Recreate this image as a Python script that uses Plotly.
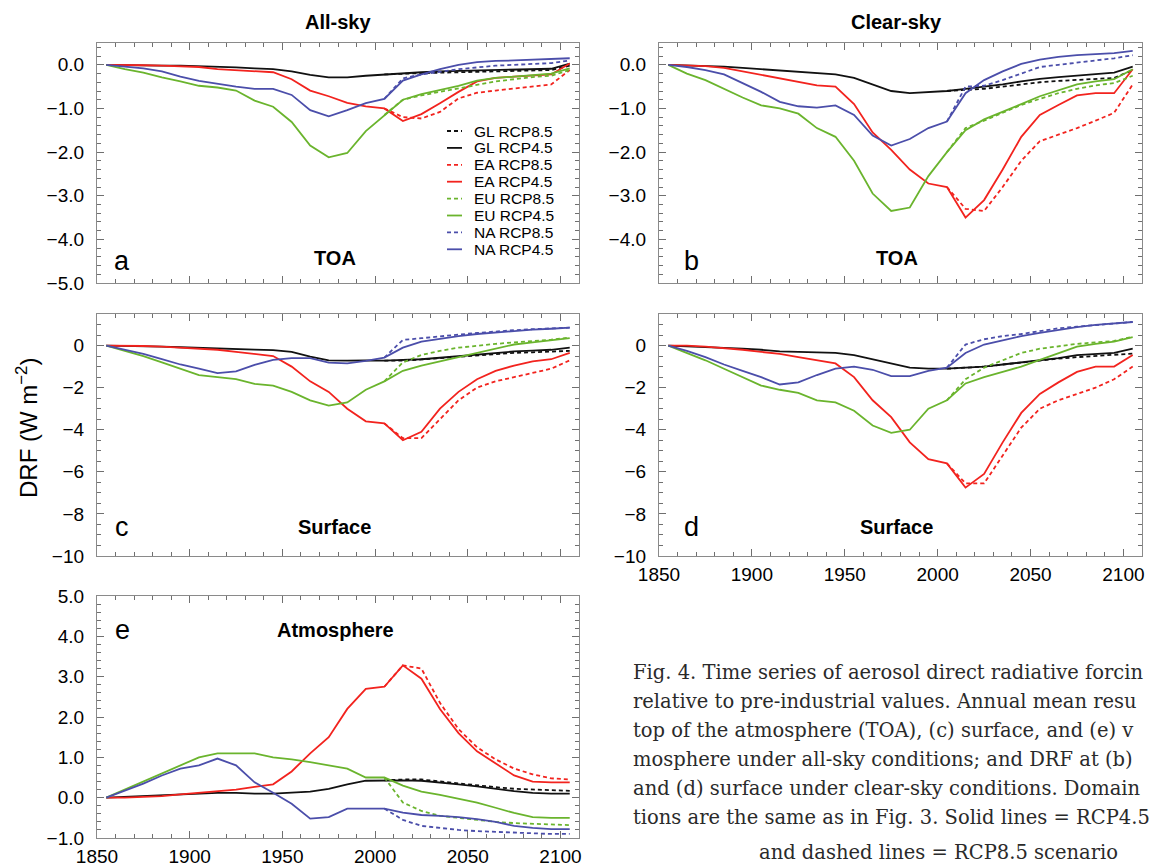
import plotly.graph_objects as go

W, H = 1154, 866

# ---------------- data (decadal means, W m-2) ----------------
YEARS_HIST = [1855, 1865, 1875, 1885, 1895, 1905, 1915, 1925, 1935, 1945,
              1955, 1965, 1975, 1985, 1995, 2005]
YEARS_FUT = [2015, 2025, 2035, 2045, 2055, 2065, 2075, 2085, 2095, 2105]
REGIONS = ["GL", "EA", "EU", "NA"]
SCENARIOS = ["RCP8.5", "RCP4.5"]

# (a) TOA all-sky
A_GL_HIST = [0.0, -0.01, -0.01, -0.02, -0.02, -0.03, -0.04, -0.06, -0.08, -0.10, -0.15, -0.23, -0.29, -0.29, -0.25, -0.22]
A_GL_45 = [-0.19, -0.17, -0.15, -0.14, -0.13, -0.12, -0.11, -0.10, -0.09, 0.03]
A_GL_85 = [-0.20, -0.19, -0.18, -0.17, -0.16, -0.15, -0.14, -0.13, -0.12, -0.02]
A_EA_HIST = [0.0, 0.0, -0.01, -0.02, -0.03, -0.05, -0.10, -0.12, -0.15, -0.17, -0.33, -0.59, -0.72, -0.87, -0.95, -1.0]
A_EA_45 = [-1.29, -1.13, -0.88, -0.62, -0.38, -0.30, -0.27, -0.24, -0.22, 0.03]
A_EA_85 = [-1.20, -1.23, -1.08, -0.77, -0.64, -0.59, -0.54, -0.50, -0.45, -0.12]
A_EU_HIST = [0.0, -0.10, -0.18, -0.29, -0.38, -0.48, -0.52, -0.59, -0.82, -0.96, -1.31, -1.85, -2.12, -2.02, -1.52, -1.15]
A_EU_45 = [-0.80, -0.67, -0.58, -0.48, -0.36, -0.30, -0.27, -0.23, -0.20, -0.08]
A_EU_85 = [-0.80, -0.70, -0.62, -0.53, -0.45, -0.38, -0.33, -0.28, -0.25, -0.12]
A_NA_HIST = [0.0, -0.04, -0.08, -0.15, -0.27, -0.37, -0.44, -0.50, -0.55, -0.55, -0.69, -1.04, -1.18, -1.04, -0.88, -0.78]
A_NA_45 = [-0.36, -0.22, -0.10, 0.0, 0.06, 0.09, 0.10, 0.12, 0.13, 0.15]
A_NA_85 = [-0.31, -0.22, -0.16, -0.10, -0.06, -0.02, 0.0, 0.02, 0.04, 0.10]

# (b) TOA clear-sky
B_GL_HIST = [0.0, -0.01, -0.02, -0.04, -0.07, -0.10, -0.13, -0.16, -0.19, -0.22, -0.30, -0.45, -0.60, -0.65, -0.63, -0.60]
B_GL_45 = [-0.55, -0.50, -0.45, -0.38, -0.32, -0.28, -0.25, -0.22, -0.18, -0.04]
B_GL_85 = [-0.57, -0.55, -0.50, -0.45, -0.40, -0.37, -0.35, -0.32, -0.30, -0.12]
B_EA_HIST = [0.0, -0.01, -0.03, -0.07, -0.15, -0.22, -0.30, -0.38, -0.47, -0.50, -0.90, -1.55, -1.95, -2.40, -2.72, -2.80]
B_EA_45 = [-3.50, -3.10, -2.40, -1.65, -1.15, -0.92, -0.70, -0.65, -0.65, -0.10]
B_EA_85 = [-3.30, -3.35, -2.80, -2.20, -1.75, -1.60, -1.45, -1.28, -1.10, -0.45]
B_EU_HIST = [0.0, -0.20, -0.35, -0.55, -0.75, -0.93, -1.00, -1.12, -1.45, -1.65, -2.20, -2.95, -3.35, -3.27, -2.55, -2.00]
B_EU_45 = [-1.50, -1.25, -1.08, -0.90, -0.72, -0.58, -0.45, -0.38, -0.33, -0.10]
B_EU_85 = [-1.45, -1.28, -1.10, -0.92, -0.78, -0.65, -0.55, -0.47, -0.42, -0.25]
B_NA_HIST = [0.0, -0.05, -0.12, -0.22, -0.42, -0.62, -0.85, -0.95, -0.98, -0.93, -1.15, -1.62, -1.85, -1.70, -1.45, -1.30]
B_NA_45 = [-0.65, -0.35, -0.15, 0.02, 0.12, 0.18, 0.22, 0.25, 0.27, 0.32]
B_NA_85 = [-0.50, -0.48, -0.35, -0.20, -0.05, 0.0, 0.05, 0.10, 0.15, 0.22]

# (c) Surface all-sky
C_GL_HIST = [0.0, -0.01, -0.03, -0.05, -0.08, -0.10, -0.13, -0.16, -0.19, -0.22, -0.30, -0.52, -0.70, -0.72, -0.70, -0.72]
C_GL_45 = [-0.70, -0.65, -0.58, -0.50, -0.44, -0.36, -0.28, -0.24, -0.20, -0.10]
C_GL_85 = [-0.72, -0.66, -0.60, -0.53, -0.46, -0.40, -0.35, -0.32, -0.30, -0.25]
C_EA_HIST = [0.0, 0.0, -0.02, -0.05, -0.10, -0.15, -0.20, -0.30, -0.40, -0.50, -1.00, -1.70, -2.20, -3.00, -3.60, -3.70]
C_EA_45 = [-4.50, -4.10, -3.00, -2.20, -1.60, -1.20, -0.95, -0.75, -0.65, -0.35]
C_EA_85 = [-4.40, -4.40, -3.50, -2.60, -2.00, -1.70, -1.50, -1.30, -1.10, -0.70]
C_EU_HIST = [0.0, -0.25, -0.50, -0.80, -1.10, -1.40, -1.50, -1.60, -1.82, -1.90, -2.20, -2.60, -2.85, -2.70, -2.10, -1.70]
C_EU_45 = [-1.20, -0.95, -0.75, -0.55, -0.35, -0.15, 0.05, 0.15, 0.25, 0.35]
C_EU_85 = [-0.80, -0.45, -0.25, -0.10, 0.0, 0.08, 0.15, 0.20, 0.28, 0.38]
C_NA_HIST = [0.0, -0.20, -0.40, -0.65, -0.90, -1.10, -1.31, -1.23, -0.92, -0.68, -0.60, -0.60, -0.81, -0.85, -0.73, -0.57]
C_NA_45 = [-0.10, 0.19, 0.33, 0.45, 0.55, 0.62, 0.70, 0.76, 0.80, 0.85]
C_NA_85 = [0.27, 0.35, 0.45, 0.52, 0.60, 0.68, 0.73, 0.78, 0.82, 0.85]

# (d) Surface clear-sky
D_GL_HIST = [0.0, -0.03, -0.07, -0.10, -0.15, -0.20, -0.28, -0.30, -0.32, -0.35, -0.45, -0.65, -0.85, -1.05, -1.10, -1.10]
D_GL_45 = [-1.05, -1.00, -0.90, -0.80, -0.70, -0.60, -0.45, -0.40, -0.35, -0.15]
D_GL_85 = [-1.05, -1.00, -0.90, -0.80, -0.70, -0.62, -0.55, -0.50, -0.45, -0.38]
D_EA_HIST = [0.0, 0.0, -0.05, -0.12, -0.20, -0.30, -0.40, -0.55, -0.70, -0.85, -1.50, -2.60, -3.40, -4.60, -5.40, -5.60]
D_EA_45 = [-6.75, -6.10, -4.60, -3.20, -2.30, -1.75, -1.25, -1.00, -1.00, -0.45]
D_EA_85 = [-6.55, -6.55, -5.20, -3.90, -3.00, -2.60, -2.30, -2.00, -1.60, -1.00]
D_EU_HIST = [0.0, -0.35, -0.70, -1.10, -1.50, -1.90, -2.10, -2.25, -2.60, -2.70, -3.10, -3.80, -4.15, -4.00, -3.00, -2.60]
D_EU_45 = [-1.80, -1.50, -1.25, -1.00, -0.68, -0.36, -0.05, 0.08, 0.19, 0.40]
D_EU_85 = [-1.60, -1.05, -0.70, -0.35, -0.15, -0.02, 0.08, 0.15, 0.22, 0.42]
D_NA_HIST = [0.0, -0.25, -0.55, -0.90, -1.20, -1.50, -1.85, -1.75, -1.40, -1.10, -1.00, -1.15, -1.45, -1.45, -1.20, -1.05]
D_NA_45 = [-0.35, 0.05, 0.25, 0.45, 0.60, 0.75, 0.88, 0.98, 1.05, 1.12]
D_NA_85 = [0.05, 0.30, 0.45, 0.55, 0.70, 0.82, 0.90, 0.98, 1.05, 1.12]

# (e) Atmosphere all-sky
E_GL_HIST = [0.0, 0.02, 0.04, 0.05, 0.08, 0.10, 0.12, 0.12, 0.10, 0.10, 0.12, 0.15, 0.22, 0.33, 0.42, 0.43]
E_GL_45 = [0.43, 0.42, 0.38, 0.33, 0.28, 0.22, 0.16, 0.12, 0.10, 0.10]
E_GL_85 = [0.45, 0.45, 0.40, 0.35, 0.30, 0.26, 0.22, 0.20, 0.18, 0.17]
E_EA_HIST = [0.0, 0.0, 0.02, 0.04, 0.08, 0.12, 0.15, 0.20, 0.27, 0.33, 0.65, 1.10, 1.50, 2.20, 2.70, 2.75]
E_EA_45 = [3.28, 2.95, 2.20, 1.60, 1.15, 0.85, 0.55, 0.40, 0.38, 0.38]
E_EA_85 = [3.28, 3.20, 2.35, 1.70, 1.25, 0.95, 0.72, 0.58, 0.48, 0.45]
E_EU_HIST = [0.0, 0.20, 0.38, 0.58, 0.80, 1.00, 1.10, 1.10, 1.10, 1.00, 0.95, 0.88, 0.80, 0.72, 0.50, 0.50]
E_EU_45 = [0.30, 0.15, 0.07, -0.02, -0.12, -0.25, -0.38, -0.48, -0.50, -0.50]
E_EU_85 = [-0.12, -0.33, -0.45, -0.50, -0.55, -0.60, -0.63, -0.65, -0.67, -0.68]
E_NA_HIST = [0.0, 0.18, 0.35, 0.55, 0.72, 0.80, 0.97, 0.80, 0.38, 0.12, -0.15, -0.52, -0.48, -0.27, -0.27, -0.27]
E_NA_45 = [-0.37, -0.43, -0.45, -0.48, -0.53, -0.60, -0.70, -0.75, -0.78, -0.78]
E_NA_85 = [-0.55, -0.70, -0.75, -0.80, -0.83, -0.85, -0.87, -0.88, -0.90, -0.90]

X_TICKS = [1850, 1900, 1950, 2000, 2050, 2100]
Y_TICKS_A = [0, -1, -2, -3, -4, -5]
Y_TICKS_B = [0, -1, -2, -3, -4]
Y_TICKS_CD = [0, -2, -4, -6, -8, -10]
Y_TICKS_E = [5, 4, 3, 2, 1, 0, -1]

COLORS = {"GL": "#111111", "EA": "#f2231e", "EU": "#6ab42d", "NA": "#4b4eaa"}
DASH85 = "4px,3px"

DATA = {
    "a": {"GL": (A_GL_HIST, A_GL_45, A_GL_85), "EA": (A_EA_HIST, A_EA_45, A_EA_85),
          "EU": (A_EU_HIST, A_EU_45, A_EU_85), "NA": (A_NA_HIST, A_NA_45, A_NA_85)},
    "b": {"GL": (B_GL_HIST, B_GL_45, B_GL_85), "EA": (B_EA_HIST, B_EA_45, B_EA_85),
          "EU": (B_EU_HIST, B_EU_45, B_EU_85), "NA": (B_NA_HIST, B_NA_45, B_NA_85)},
    "c": {"GL": (C_GL_HIST, C_GL_45, C_GL_85), "EA": (C_EA_HIST, C_EA_45, C_EA_85),
          "EU": (C_EU_HIST, C_EU_45, C_EU_85), "NA": (C_NA_HIST, C_NA_45, C_NA_85)},
    "d": {"GL": (D_GL_HIST, D_GL_45, D_GL_85), "EA": (D_EA_HIST, D_EA_45, D_EA_85),
          "EU": (D_EU_HIST, D_EU_45, D_EU_85), "NA": (D_NA_HIST, D_NA_45, D_NA_85)},
    "e": {"GL": (E_GL_HIST, E_GL_45, E_GL_85), "EA": (E_EA_HIST, E_EA_45, E_EA_85),
          "EU": (E_EU_HIST, E_EU_45, E_EU_85), "NA": (E_NA_HIST, E_NA_45, E_NA_85)},
}

# ---------------- layout helpers ----------------
def px(x):
    return x / W

def py(y):
    return 1 - y / H

LEFT = [px(97), px(579)]
RIGHT = [px(659), px(1142)]
ROW1 = [py(283), py(43)]
ROW2 = [py(556), py(314)]
ROW3 = [py(838), py(596)]

FONT = "Liberation Sans, Arial, Helvetica, sans-serif"
FRAME = "#8a8a8a"
TICKC = "#6f6f6f"
TICKFONT = dict(size=19, family=FONT, color="black")

PANELS = [
    # key, axis suffix, xdomain, ydomain, yrange, yticks, yfmt, ydminor, show x labels
    ("a", "", LEFT, ROW1, [-5, 0.5], Y_TICKS_A, ".1f", 0.2, False),
    ("b", "2", RIGHT, ROW1, [-5, 0.5], Y_TICKS_B, ".1f", 0.2, False),
    ("c", "3", LEFT, ROW2, [-10, 1.5], Y_TICKS_CD, "d", 0.5, False),
    ("d", "4", RIGHT, ROW2, [-10, 1.5], Y_TICKS_CD, "d", 0.5, True),
    ("e", "5", LEFT, ROW3, [-1, 5], Y_TICKS_E, ".1f", 0.2, True),
]

fig = go.Figure()
layout = dict(
    width=W, height=H,
    margin=dict(l=0, r=0, t=0, b=0, autoexpand=False),
    paper_bgcolor="white", plot_bgcolor="white",
    font=dict(family=FONT, color="black"),
    showlegend=False,
)

for key, sfx, xd, yd, yr, yt, yf, ymin, showx in PANELS:
    xa, ya = "x" + sfx, "y" + sfx
    for reg in REGIONS:
        hist, r45, r85 = DATA[key][reg]
        fig.add_trace(go.Scatter(
            x=[YEARS_HIST[-1]] + YEARS_FUT, y=[hist[-1]] + r85,
            mode="lines", name=f"{reg} RCP8.5",
            line=dict(color=COLORS[reg], width=1.8, dash=DASH85),
            xaxis=xa, yaxis=ya, hoverinfo="skip"))
        fig.add_trace(go.Scatter(
            x=YEARS_HIST + YEARS_FUT, y=hist + r45,
            mode="lines", name=f"{reg} RCP4.5",
            line=dict(color=COLORS[reg], width=1.8),
            xaxis=xa, yaxis=ya, hoverinfo="skip"))

    layout["xaxis" + sfx] = dict(
        domain=xd, anchor=ya, range=[1850, 2110], automargin=False,
        tickvals=X_TICKS, ticks="inside", ticklen=7, tickwidth=1, tickcolor=TICKC,
        minor=dict(dtick=10, tick0=1850, ticks="inside", ticklen=4, tickcolor=TICKC, showgrid=False),
        showline=True, linecolor=FRAME, linewidth=1.2, mirror="ticks",
        showgrid=False, zeroline=False, showticklabels=showx,
        tickfont=TICKFONT, ticklabelstandoff=1,
    )
    layout["yaxis" + sfx] = dict(
        domain=yd, anchor=xa, range=yr, automargin=False,
        tickvals=yt, tickformat=yf, ticks="inside", ticklen=7, tickwidth=1, tickcolor=TICKC,
        minor=dict(dtick=ymin, tick0=0, ticks="inside", ticklen=4, tickcolor=TICKC, showgrid=False),
        showline=True, linecolor=FRAME, linewidth=1.2, mirror="ticks",
        showgrid=False, zeroline=False,
        tickfont=TICKFONT, ticklabelstandoff=8,
    )

ann = []
shapes = []

def text(x, y, s, size, bold=False, family=FONT, anchor="center", color="black", angle=0):
    ann.append(dict(
        x=px(x), y=py(y), xref="paper", yref="paper", text=(f"<b>{s}</b>" if bold else s),
        showarrow=False, xanchor=anchor, yanchor="middle", textangle=angle,
        font=dict(size=size, family=family, color=color)))

# legend inside panel (a): short line keys + labels
LEG_Y0, LEG_DY = 131, 16.9
i = 0
for reg in REGIONS:
    for scen in SCENARIOS:
        yy = LEG_Y0 + LEG_DY * i
        shapes.append(dict(
            type="line", xref="paper", yref="paper",
            x0=px(447), x1=px(462), y0=py(yy), y1=py(yy),
            line=dict(color=COLORS[reg], width=1.8, dash=(DASH85 if scen == "RCP8.5" else "solid"))))
        text(472, yy, f"{reg} {scen}", 15.5, anchor="left")
        i += 1

# column titles
text(338, 22, "All-sky", 20, bold=True)
text(896, 22, "Clear-sky", 20, bold=True)
# panel letters and labels
text(122, 261, "a", 27)
text(335, 258, "TOA", 20, bold=True)
text(691, 261, "b", 27)
text(897, 258, "TOA", 20, bold=True)
text(122, 527, "c", 27)
text(334, 527, "Surface", 20, bold=True)
text(691, 527, "d", 27)
text(896, 527, "Surface", 20, bold=True)
text(122, 630, "e", 27)
text(335, 630, "Atmosphere", 20, bold=True)
# shared y-axis title
text(27, 428, "DRF (W m<sup>−2</sup>)", 24, angle=-90)

# caption
CAPTION = [
    "Fig. 4. Time series of aerosol direct radiative forcin",
    "relative to pre-industrial values. Annual mean resu",
    "top of the atmosphere (TOA), (c) surface, and (e) v",
    "mosphere under all-sky conditions; and DRF at (b)",
    "and (d) surface under clear-sky conditions. Domain",
    "tions are the same as in Fig. 3. Solid lines = RCP4.5",
]
SERIF = "DejaVu Serif, Liberation Serif, serif"
for k, line in enumerate(CAPTION):
    text(631, 672 + 29.0 * k, line, 19.5, family=SERIF, anchor="left", color="#2a2a2a")
text(757, 852, "and dashed lines = RCP8.5 scenario", 19.5, family=SERIF, anchor="left", color="#2a2a2a")

layout["annotations"] = ann
layout["shapes"] = shapes
fig.update_layout(**layout)
fig.write_html("out.html", config={"displayModeBar": False},
               post_script="document.body.style.margin='0px';document.body.style.overflow='hidden';")
